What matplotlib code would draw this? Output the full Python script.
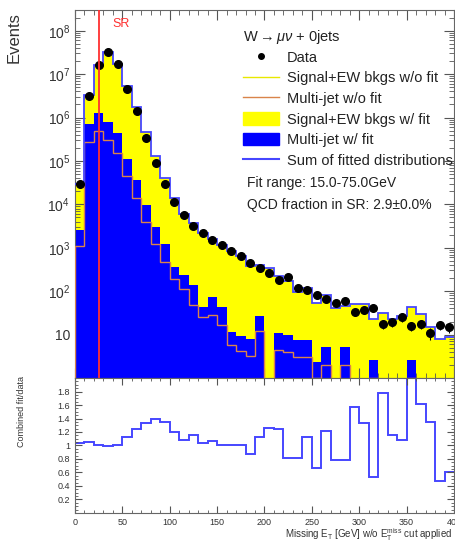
import matplotlib
matplotlib.use("Agg")
import matplotlib.pyplot as plt
import numpy as np
from matplotlib.ticker import FixedLocator, MultipleLocator, LogLocator, FuncFormatter, NullFormatter
from matplotlib.lines import Line2D
from matplotlib.patches import Patch

plt.rcParams['font.family'] = ['Liberation Sans', 'DejaVu Sans']
plt.rcParams['mathtext.fontset'] = 'custom'
plt.rcParams['mathtext.rm'] = 'Liberation Sans'
plt.rcParams['mathtext.it'] = 'Liberation Sans:italic'

## Inputs

bin_edges = np.arange(0, 410, 10)

# observed events per 10 GeV bin
data_events = [2.9e4, 3.2e6, 1.65e7, 3.2e7, 1.7e7, 4.6e6, 1.4e6, 3.4e5, 9.2e4, 3.0e4,
               1.15e4, 5.7e3, 3.2e3, 2.15e3, 1.5e3, 1.15e3, 830, 630, 440, 350,
               265, 180, 210, 117, 107, 80, 66, 53, 58, 33,
               37, 42, 18, 19.4, 25, 16, 18, 10.8, 17, 14.7]

# sum of fitted templates / data
fit_ratio = [1.03, 1.05, 1.01, 0.99, 1.01, 1.13, 1.25, 1.34, 1.39, 1.35,
             1.20, 1.08, 1.15, 1.04, 1.07, 1.01, 1.01, 1.01, 0.87, 1.13,
             1.26, 1.24, 0.81, 0.81, 1.13, 0.67, 1.22, 0.78, 0.78, 1.57,
             1.34, 0.54, 1.78, 1.16, 1.08, 2.70, 1.62, 1.35, 0.47, 0.60]

# multi-jet template after the fit
multijet_fit = [2.6e3, 7.2e5, 1.3e6, 8.0e5, 4.3e5, 1.1e5, 3.6e4, 9.6e3, 3.0e3, 1.2e3,
                370, 236, 140, 44, 72, 43, 11.5, 9.5, 8, 27,
                0, 11, 10, 7.6, 7.6, 2.4, 5.2, 0, 5.2, 0,
                0, 2.6, 0, 0, 0, 2.6, 0, 0, 0, 0]

# multi-jet template before the fit
multijet_nofit = [1.1e3, 2.8e5, 4.8e5, 3.0e5, 1.5e5, 4.5e4, 1.4e4, 4.0e3, 1.2e3, 460,
                  190, 110, 48, 25, 29, 17, 5.8, 4.1, 3.2, 12,
                  0, 4.5, 4.0, 3.0, 3.0, 1.0, 2.0, 0, 2.0, 0,
                  0, 1.0, 0, 0, 0, 1.0, 0, 0, 0, 0]

sr_cut = 25
fit_range = (15.0, 75.0)
qcd_frac = 2.9

data_events = np.array(data_events)
fit_ratio = np.array(fit_ratio)
sum_fit = fit_ratio * data_events
floor = 1e-3
mj_fit = np.where(np.array(multijet_fit) > 0, multijet_fit, floor)
mj_nofit = np.where(np.array(multijet_nofit) > 0, multijet_nofit, floor)
centers = 0.5 * (bin_edges[1:] + bin_edges[:-1])

## Figure

fig = plt.figure(figsize=(4.55, 5.48), dpi=100)
ax = fig.add_axes([0.1648, 0.3102, 0.833, 0.6715])
rax = fig.add_axes([0.1648, 0.0639, 0.833, 0.2463])

col_yel = '#ffff00'
col_blue = '#0000ff'
col_sum = '#4646ff'
col_orange = '#d9844a'
col_red = '#ff3030'
col_txt = '#222222'

ax.stairs(sum_fit, bin_edges, fill=True, color=col_yel, baseline=floor, zorder=1)
ax.stairs(mj_fit, bin_edges, fill=True, color=col_blue, baseline=floor, zorder=2)
ax.stairs(mj_nofit, bin_edges, color=col_orange, lw=1.0, baseline=floor, zorder=3)
ax.stairs(sum_fit, bin_edges, color=col_sum, lw=1.3, baseline=None, zorder=4)
ax.errorbar(centers, data_events, yerr=np.sqrt(data_events), fmt='o', color='black',
            ms=5.5, lw=0.8, capsize=0, zorder=5)
ax.axvline(sr_cut, color=col_red, lw=1.3, zorder=6)
ax.text(0.1, 0.962, 'SR', color=col_red, fontsize=9, transform=ax.transAxes,
        ha='left', va='center')

ax.set_xlim(0, 400)
ax.set_yscale('log')
ax.set_ylim(1, 3e8)
ax.yaxis.set_major_locator(FixedLocator([10 ** k for k in range(1, 9)]))
ax.yaxis.set_major_formatter(FuncFormatter(
    lambda v, p: '10' if abs(v - 10) < 1e-6 else r'$10^{%d}$' % round(np.log10(v))))
ax.yaxis.set_minor_locator(LogLocator(base=10, subs=np.arange(2, 10), numticks=20))
ax.yaxis.set_minor_formatter(NullFormatter())
ax.xaxis.set_major_locator(MultipleLocator(50))
ax.xaxis.set_minor_locator(MultipleLocator(10))
ax.tick_params(axis='x', labelbottom=False)
for a in (ax, rax):
    a.tick_params(which='both', direction='in', top=True, right=True, colors='#555555',
                  labelcolor='#333333')
    a.tick_params(which='major', length=7, width=0.8)
    a.tick_params(which='minor', length=3.5, width=0.6)
    for s in a.spines.values():
        s.set_color('#666666')
        s.set_linewidth(0.8)
ax.tick_params(axis='y', labelsize=10)
ax.set_ylabel('Events', fontsize=12, color='#333333')
ax.yaxis.set_label_coords(-0.14, 0.925)

# legend block
ax.text(0.443, 0.928, r'W$\rightarrow\mu\nu$ + 0jets', transform=ax.transAxes,
        fontsize=10.5, ha='left', va='center', color=col_txt)
handles = [
    Line2D([], [], marker='o', color='black', ls='none', ms=4),
    Line2D([], [], color='#e8e800', lw=1),
    Line2D([], [], color=col_orange, lw=1),
    Patch(facecolor=col_yel, edgecolor=col_yel),
    Patch(facecolor=col_blue, edgecolor=col_blue),
    Line2D([], [], color=col_sum, lw=1.5),
]
labels = ['Data', 'Signal+EW bkgs w/o fit', 'Multi-jet w/o fit',
          'Signal+EW bkgs w/ fit', 'Multi-jet w/ fit', 'Sum of fitted distributions']
leg = ax.legend(handles, labels, loc='upper left', bbox_to_anchor=(0.443, 0.89),
                frameon=False, fontsize=10.5, handlelength=2.5, handleheight=0.9,
                handletextpad=0.5, labelspacing=0.45, borderaxespad=0, borderpad=0)
for t in leg.get_texts():
    t.set_color(col_txt)
ax.text(0.453, 0.53, 'Fit range: %.1f-%.1fGeV' % fit_range, transform=ax.transAxes,
        fontsize=10, ha='left', va='center', color=col_txt)
ax.text(0.453, 0.47, u'QCD fraction in SR: %.1f\u00b10.0%%' % qcd_frac,
        transform=ax.transAxes, fontsize=10, ha='left', va='center', color=col_txt,
        clip_on=False)

# ratio panel
rax.stairs(np.minimum(fit_ratio, 2.05), bin_edges, color=col_sum, lw=1.4, baseline=None)
rax.set_xlim(0, 400)
rax.set_ylim(0, 2)
rax.yaxis.set_major_locator(FixedLocator([0.2, 0.4, 0.6, 0.8, 1.0, 1.2, 1.4, 1.6, 1.8]))
rax.yaxis.set_major_formatter(FuncFormatter(lambda v, p: '%g' % v))
rax.yaxis.set_minor_locator(MultipleLocator(0.05))
rax.xaxis.set_major_locator(MultipleLocator(50))
rax.xaxis.set_minor_locator(MultipleLocator(10))
rax.tick_params(which='major', length=5)
rax.tick_params(which='minor', length=2.5)
rax.tick_params(labelsize=6.5)
rax.set_ylabel('Combined fit/data', fontsize=6.5, color='#333333')
rax.yaxis.set_label_coords(-0.13, 0.75)
fig.text(452 / 455, 1 - 535 / 548,
         r'Missing E$_{\rm T}$ [GeV] w/o E$_{\rm T}^{\rm miss}$ cut applied',
         fontsize=7, ha='right', va='center', color='#333333')

fig.savefig('out.png', dpi=100)
